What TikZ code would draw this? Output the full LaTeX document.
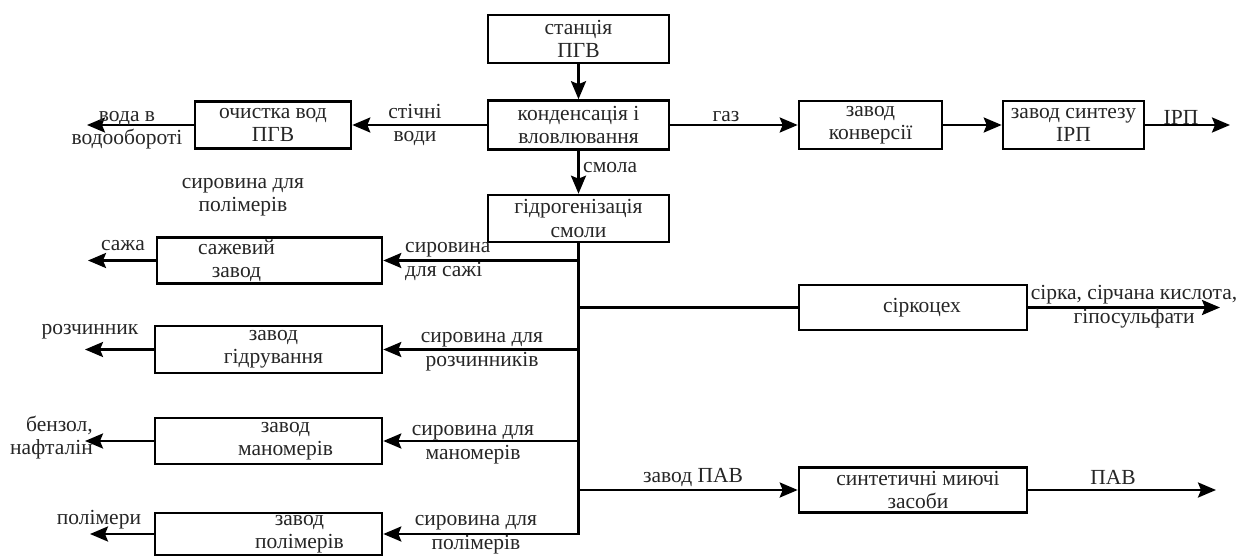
\documentclass[tikz,border=0pt]{standalone}
\usepackage{fontspec}
\setmainfont{Liberation Serif}
\newfontfamily\diagfont{Liberation Serif}
\usetikzlibrary{arrows.meta}
\begin{document}
\begin{tikzpicture}[x=1pt,y=-1pt,
  txt/.style={text=black!85, font=\diagfont\fontsize{21.5}{23.5}\selectfont, align=center, inner sep=0pt},
  box/.style={txt, draw=black, line width=2.6pt},
  flow/.style={line width=2.6pt, -{Stealth[length=18pt,width=15pt,inset=3pt]}},
  plainline/.style={line width=2.6pt}]
\useasboundingbox[fill=white] (0,0) rectangle (1248,556);

% boxes
\node[box, minimum width=181pt, minimum height=48pt] (st) at (578.5,39) {станція\\ПГВ};
\node[box, minimum width=181pt, minimum height=49pt] (kond) at (578.5,125) {конденсація і\\вловлювання};
\node[box, minimum width=181pt, minimum height=47pt] (hydro) at (578.5,218.5) {гідрогенізація\\смоли};
\node[box, minimum width=156pt, minimum height=47pt] (och) at (273,125) {очистка вод\\ПГВ};
\node[box, minimum width=143pt, minimum height=48pt] (konv) at (870.5,125) {завод\\конверсії};
\node[box, minimum width=141pt, minimum height=48pt] (synth) at (1073.5,125) {завод синтезу\\ІРП};
\node[box, minimum width=225pt, minimum height=46pt] (saj) at (269.5,260.5) {};
\node[box, minimum width=227pt, minimum height=47pt] (hidr) at (268.5,349.5) {};
\node[box, minimum width=227pt, minimum height=46pt] (mon) at (268.5,441) {};
\node[box, minimum width=227pt, minimum height=42pt] (pol) at (268.5,534) {};
\node[box, minimum width=228pt, minimum height=45pt] (sirk) at (913,307.5) {};
\node[box, minimum width=228pt, minimum height=45pt] (pav) at (913,490) {};

% texts inside the lower boxes (offset as printed)
\node[txt] (tsaj) at ([xshift=-33pt]saj.center) {сажевий\\завод};
\node[txt] (thidr) at ([xshift=5pt]hidr.center) {завод\\гідрування};
\node[txt] (tmon) at ([xshift=17pt]mon.center) {завод\\маномерів};
\node[txt] (tpol) at ([xshift=31pt]pol.center) {завод\\полімерів};
\node[txt] (tsirk) at ([xshift=9pt]sirk.center) {сіркоцех};
\node[txt] (tpav) at ([xshift=5pt]pav.center) {синтетичні миючі\\засоби};

% free ends
\coordinate (eVoda) at (87,125);
\coordinate (eIRP) at (1230,125);
\coordinate (eSaja) at (88,260.5);
\coordinate (eRoz) at (85,349.5);
\coordinate (eBen) at (85,441);
\coordinate (ePol) at (90,534);
\coordinate (eSirk) at (1220,307.5);
\coordinate (ePav) at (1216,490);

% connectors
\draw[flow] (st) -- (kond);
\draw[flow] (kond) -- (hydro);
\draw[flow] (kond) -- (och);
\draw[flow] (och) -- (eVoda);
\draw[flow] (kond) -- (konv);
\draw[flow] (konv) -- (synth);
\draw[flow] (synth) -- (eIRP);
\draw[flow] (hydro.south) |- (pol.east);
\draw[flow] (hydro.south |- saj.east) -- (saj.east);
\draw[flow] (hydro.south |- hidr.east) -- (hidr.east);
\draw[flow] (hydro.south |- mon.east) -- (mon.east);
\draw[flow] (hydro.south |- pav.west) -- (pav.west);
\draw[plainline] (hydro.south |- sirk.west) -- (sirk.west);
\draw[flow] (saj) -- (eSaja);
\draw[flow] (hidr) -- (eRoz);
\draw[flow] (mon) -- (eBen);
\draw[flow] (pol) -- (ePol);
\draw[flow] (sirk) -- (eSirk);
\draw[flow] (pav) -- (ePav);

% labels
\node[txt] (lgaz) at (726,117) {газ};
\node[txt] (lirp) at (1181,117) {ІРП};
\node[txt, anchor=west] (lsmola) at (583,168) {смола};
\node[txt] (lstich) at (415,125) {стічні\\води};
\node[txt] (lvoda) at (127,130) {вода в\\водообороті};
\node[txt] (lfloat) at (243,197) {сировина для\\полімерів};
\node[txt] (lsaja) at (123,246) {сажа};
\node[txt, anchor=west, align=left] (lsirsaj) at (405,261.5) {сировина\\для сажі};
\node[txt] (lroz) at (90,332) {розчинник};
\node[txt] (lsirroz) at (482,351.5) {сировина для\\розчинників};
\node[txt, anchor=east, align=right] (lben) at (93,437.5) {бензол,\\нафталін};
\node[txt] (lsirmon) at (473,444.5) {сировина для\\маномерів};
\node[txt] (lpolim) at (99,520) {полімери};
\node[txt] (lsirpol) at (476,534.5) {сировина для\\полімерів};
\node[txt] (lzpav) at (693,477) {завод ПАВ};
\node[txt] (lpavout) at (1113,477) {ПАВ};
\node[txt] (lsirka) at (1134,306.5) {сірка, сірчана кислота,\\гіпосульфати};
\end{tikzpicture}
\end{document}
